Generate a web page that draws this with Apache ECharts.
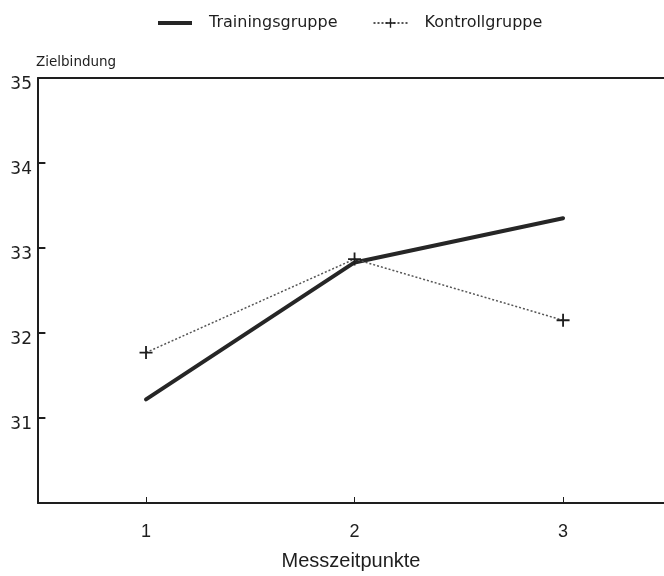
<!DOCTYPE html>
<html>
<head>
<meta charset="utf-8">
<script src="https://cdn.jsdelivr.net/npm/echarts@6/dist/echarts.min.js"></script>
<style>
  html, body { margin: 0; padding: 0; background: #fff; }
  #chart { width: 664px; height: 576px; }
</style>
</head>
<body>
<div id="chart"></div>
<script>
// Measurement occasions and group means
const zeitpunkte = [1, 2, 3];
const trainingsgruppe = [31.22, 32.83, 33.35];
const kontrollgruppe = [31.77, 32.87, 32.15];
const yTicks = [31, 32, 33, 34, 35];

const ink = '#1e1e1e';
const font = 'DejaVu Sans';
const plusPath = 'path://M4.3,0H5.7V4.3H10V5.7H5.7V10H4.3V5.7H0V4.3H4.3Z';
const barIcon = 'path://M0,0H34V4H0Z';
const tickIcon = 'path://M0,0H7V2H0Z';

// x range chosen so the frame runs to the right edge of the page
const xMin = 0.482;
const xMax = 3.484;

const chart = echarts.init(document.getElementById('chart'), null, { renderer: 'canvas' });

chart.setOption({
  animation: false,
  backgroundColor: '#fff',
  textStyle: { fontFamily: font, color: ink },
  legend: {
    top: 10,
    left: 153,
    itemWidth: 34,
    itemHeight: 12,
    itemGap: 35,
    textStyle: { fontFamily: font, fontSize: 16, color: ink, padding: [0, 0, 0, 12] },
    data: [
      { name: 'Trainingsgruppe', icon: barIcon },
      { name: 'Kontrollgruppe' }
    ]
  },
  grid: {
    left: 38,
    top: 78,
    right: 0,
    height: 425,
    show: false
  },
  xAxis: [
    {
      type: 'value',
      min: xMin,
      max: xMax,
      name: 'Messzeitpunkte',
      nameLocation: 'middle',
      nameGap: 48,
      nameTextStyle: { fontFamily: 'Liberation Sans', fontSize: 20, color: ink },
      axisLine: { show: true, onZero: false, lineStyle: { color: ink, width: 2 } },
      axisTick: { show: true, inside: true, length: 6, customValues: zeitpunkte, lineStyle: { color: ink, width: 1 } },
      axisLabel: { customValues: zeitpunkte, margin: 20, fontSize: 18, color: ink, fontFamily: 'Liberation Sans' },
      splitLine: { show: false }
    },
    {
      // top edge of the frame
      type: 'value',
      position: 'top',
      min: xMin,
      max: xMax,
      axisLine: { show: true, onZero: false, lineStyle: { color: ink, width: 2 } },
      axisTick: { show: false },
      axisLabel: { show: false },
      splitLine: { show: false }
    }
  ],
  yAxis: {
    type: 'value',
    min: 30,
    max: 35,
    interval: 1,
    name: 'Zielbindung',
    nameLocation: 'end',
    nameGap: 9,
    nameTextStyle: { fontFamily: font, fontSize: 13.5, color: ink, align: 'left', padding: [0, 0, 0, -2] },
    axisLine: { show: true, lineStyle: { color: ink, width: 2 } },
    axisTick: { show: true, inside: true, length: 7, lineStyle: { color: ink, width: 2 } },
    axisLabel: {
      margin: 6,
      color: ink,
      fontFamily: font,
      fontSize: 17,
      verticalAlign: 'top',
      lineHeight: 14,
      formatter: v => (yTicks.indexOf(v) >= 0 ? String(v) : '')
    },
    splitLine: { show: false }
  },
  series: [
    {
      name: 'Trainingsgruppe',
      type: 'line',
      data: zeitpunkte.map((x, i) => [x, trainingsgruppe[i]]),
      symbol: 'none',
      lineStyle: { color: '#262626', width: 4, cap: 'round', join: 'round' },
      itemStyle: { color: '#262626' },
      z: 3
    },
    {
      name: 'Kontrollgruppe',
      type: 'line',
      data: zeitpunkte.map((x, i) => [x, kontrollgruppe[i]]),
      symbol: plusPath,
      symbolSize: 13,
      lineStyle: { color: '#555', width: 1.5, type: [2, 2] },
      itemStyle: { color: ink },
      z: 4
    },
    {
      // short inward tick marks on the left edge, one per labelled value
      name: 'ticks',
      type: 'scatter',
      data: yTicks.map(v => [xMin, v]),
      symbol: tickIcon,
      symbolSize: [7, 2],
      symbolOffset: [4, 0],
      clip: false,
      silent: true,
      itemStyle: { color: ink },
      z: 2
    }
  ]
});
</script>
</body>
</html>
